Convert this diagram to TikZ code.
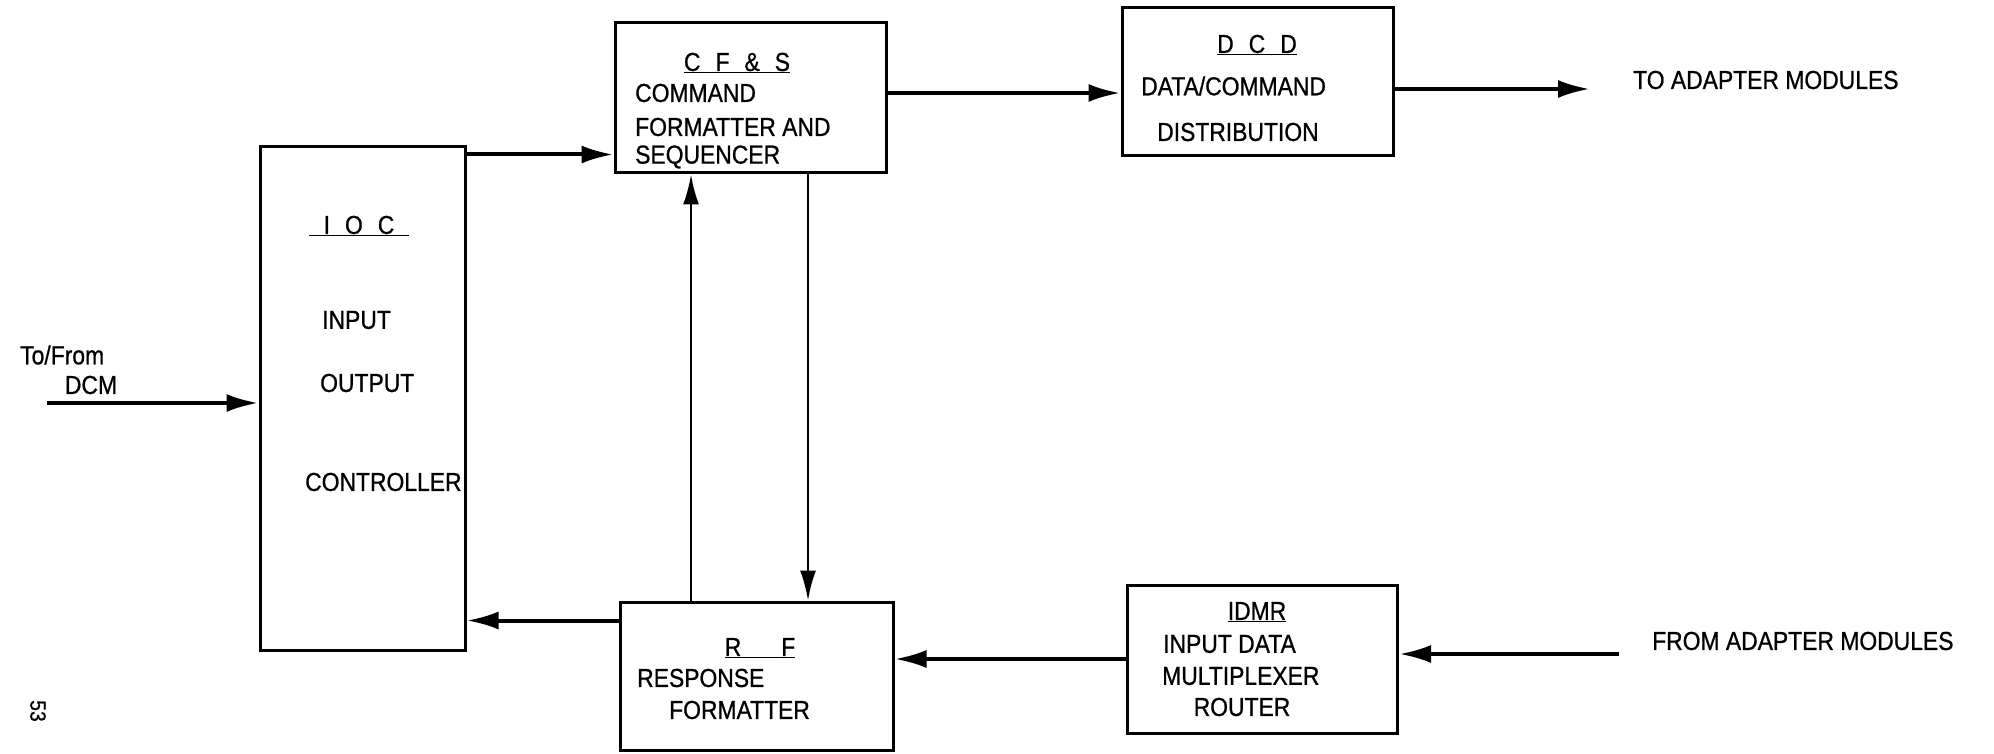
\documentclass[tikz,border=0pt]{standalone}
\usepackage{fontspec}
\setmainfont{Liberation Sans}[FakeStretch=0.88,FakeBold=0.8]
\usetikzlibrary{arrows.meta}
\newcommand{\lsp}{\hspace{15pt}}

\begin{document}
\begin{tikzpicture}[x=1pt,y=-1pt,
  every node/.style={font=\fontsize{26}{30}\selectfont,inner sep=0pt},
  blk/.style={draw,line width=3pt},
  arr/.style={line width=4pt,-{Latex[length=32pt,width=18pt]}},
  thinarr/.style={line width=2.5pt,-{Latex[length=30pt,width=16pt]}},
  txt/.style={anchor=west}]
\useasboundingbox (0,0) rectangle (1994,754);
% blocks
\node[blk,minimum width=205pt,minimum height=503pt] (ioc) at (362.5,398.5) {};
\node[blk,minimum width=271pt,minimum height=150pt] (cfs) at (750.5,98) {};
\node[blk,minimum width=271pt,minimum height=148pt] (dcd) at (1257.5,82) {};
\node[blk,minimum width=273pt,minimum height=148pt] (rf) at (756.5,676) {};
\node[blk,minimum width=270pt,minimum height=148pt] (idmr) at (1262.5,659) {};
% IOC
\node (iocT) at (359,226) {\underline{\lsp I\lsp O\lsp C\lsp}};
\node[txt] (iocA) at (322,320) {INPUT};
\node[txt] (iocB) at (320,383) {OUTPUT};
\node[txt] (iocC) at (305,482) {CONTROLLER};
% CF&S
\node (cfsT) at (737,63) {\underline{C\lsp F\lsp \&\lsp S}};
\node[txt] (cfsA) at (635,93) {COMMAND};
\node[txt] (cfsB) at (635,127) {FORMATTER AND};
\node[txt] (cfsC) at (635,157) {SEQUENCER};
% DCD
\node (dcdT) at (1257,45) {\underline{D\lsp C\lsp D}};
\node[txt] (dcdA) at (1141,86) {DATA/COMMAND};
\node[txt] (dcdB) at (1157,132) {DISTRIBUTION};
% RF
\node (rfT) at (760,648) {\underline{R\hspace{40pt}F}};
\node[txt] (rfA) at (637,678) {RESPONSE};
\node[txt] (rfB) at (669,710) {FORMATTER};
% IDMR
\node (idmrT) at (1257,612) {\underline{IDMR}};
\node[txt] (idmrA) at (1163,644) {INPUT DATA};
\node[txt] (idmrB) at (1162,676) {MULTIPLEXER};
\node (idmrC) at (1242,707) {ROUTER};
% outside labels
\node[txt] (toam) at (1633,80) {TO ADAPTER MODULES};
\node[txt] (fram) at (1652,641) {FROM ADAPTER MODULES};
\node[txt] (dcmA) at (20,355) {To/From};
\node (dcmB) at (91,385) {DCM};
\node[rotate=-90,font=\fontsize{22}{26}\selectfont] (pg) at (38,711) {53};
% connectors
\coordinate (dcmIn) at (47,403);
\coordinate (toEnd) at (1590,89);
\coordinate (frStart) at (1619,654);
\coordinate (upX) at (691,0);
\coordinate (dnX) at (808,0);
\draw[arr] (dcmIn) -- (dcmIn -| ioc.west);
\draw[arr] ([yshift=-9pt]ioc.north east) -- ([yshift=-9pt]ioc.north east -| cfs.west);
\draw[arr] ([yshift=5pt]cfs.east) -- ([yshift=5pt]cfs.east -| dcd.west);
\draw[arr] (dcd.east |- toEnd) -- (toEnd);
\draw[arr] (frStart) -- (frStart -| idmr.east);
\draw[arr] (idmr.west) -- (idmr.west -| rf.east);
\draw[arr] ([yshift=-20pt]rf.north west) -- ([yshift=-20pt]rf.north west -| ioc.east);
\draw[thinarr] (upX |- rf.north) -- (upX |- cfs.south);
\draw[thinarr] (dnX |- cfs.south) -- (dnX |- rf.north);
\end{tikzpicture}
\end{document}
